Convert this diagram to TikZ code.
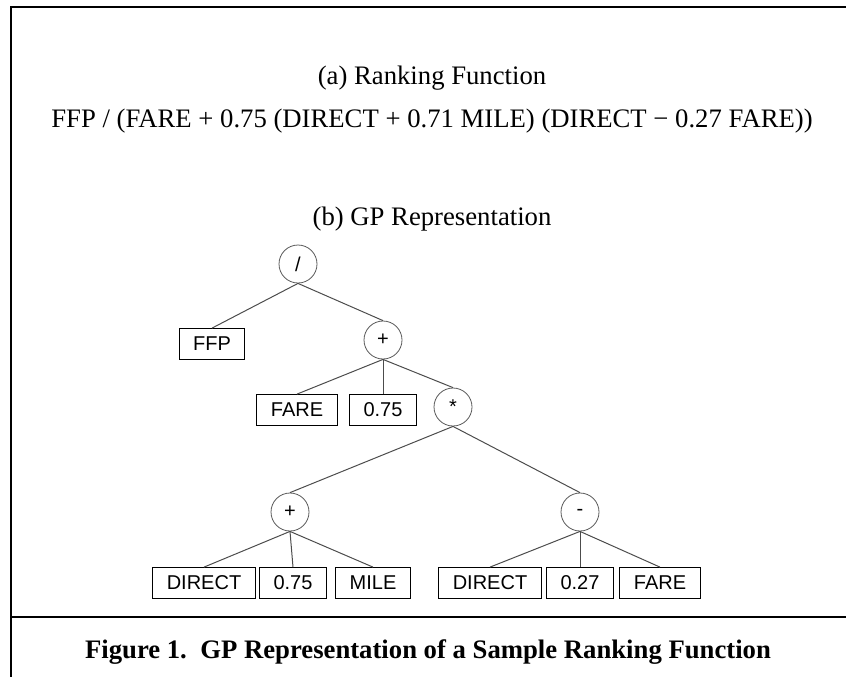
\documentclass[tikz,border=0pt]{standalone}
\usepackage{fontspec}
\setmainfont{Liberation Serif}
\setsansfont{Liberation Sans}
\usetikzlibrary{positioning}

\tikzset{
  op/.style={draw=black!65, circle, minimum size=19pt, inner sep=0pt,
    font=\sffamily\fontsize{10}{12}\selectfont},
  leaf/.style={draw, rectangle, minimum height=15.5pt, inner xsep=7pt,
    inner ysep=0pt, font=\sffamily\fontsize{10}{12}\selectfont},
  link/.style={draw=black!70, line width=0.5pt},
  heading/.style={anchor=base, inner sep=0pt,
    font=\fontsize{13.35}{16}\selectfont},
  frame/.style={line width=1.3pt}
}

\begin{document}
\begin{tikzpicture}[x=0.5pt, y=-0.5pt]
    \useasboundingbox (0,0) rectangle (846,677);
    \draw [frame] (846,7) -- (11,7) -- (11,677);
    \draw [frame] (11,617) -- (846,617);

    \node [heading] (ta) at (432,84) {(a) Ranking Function};
    \node [heading] (fn) at (432,127) {FFP / (FARE + 0.75 (DIRECT + 0.71 MILE) (DIRECT − 0.27 FARE))};
    \node [heading] (tb) at (432,225) {(b) GP Representation};
    \node [heading, font=\bfseries\fontsize{13.35}{16}\selectfont] (cap) at (428,658)
        {Figure 1.\ \ GP Representation of a Sample Ranking Function};

    \node [op] (div) at (298,264) {/};
    \node [leaf] (ffp) at (212,344) {FFP};
    \node [op] (plusa) at (383,340) {+};
    \node [leaf] (farea) at (297,410) {FARE};
    \node [leaf] (ca) at (383,410) {0.75};
    \node [op] (mul) at (453,407) {*};
    \node [op] (plusb) at (290,512) {+};
    \node [op] (minus) at (580,512) {-};
    \node [leaf] (dira) at (204,583) {DIRECT};
    \node [leaf] (cb) at (293,583) {0.75};
    \node [leaf] (mile) at (373,583) {MILE};
    \node [leaf] (dirb) at (490,583) {DIRECT};
    \node [leaf] (cc) at (580,583) {0.27};
    \node [leaf] (fareb) at (660,583) {FARE};

    \draw [link] (div.south) -- (ffp.north);
    \draw [link] (div.south) -- (plusa.north);
    \draw [link] (plusa.south) -- (farea.north);
    \draw [link] (plusa.south) -- (ca.north);
    \draw [link] (plusa.south) -- (mul.north);
    \draw [link] (mul.south) -- (plusb.north);
    \draw [link] (mul.south) -- (minus.north);
    \draw [link] (plusb.south) -- (dira.north);
    \draw [link] (plusb.south) -- (cb.north);
    \draw [link] (plusb.south) -- (mile.north);
    \draw [link] (minus.south) -- (dirb.north);
    \draw [link] (minus.south) -- (cc.north);
    \draw [link] (minus.south) -- (fareb.north);
\end{tikzpicture}
\end{document}
